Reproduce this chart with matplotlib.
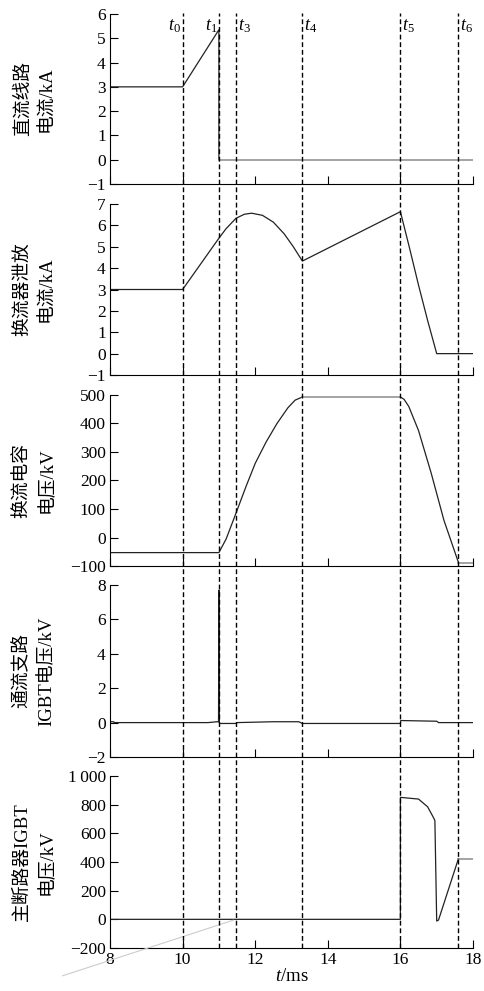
import numpy as np
import matplotlib
matplotlib.use('Agg')
import matplotlib.pyplot as plt
from matplotlib.lines import Line2D
from matplotlib import transforms

plt.rcParams['font.family'] = ['Liberation Serif', 'Noto Sans CJK SC']
plt.rcParams['mathtext.fontset'] = 'custom'
plt.rcParams['mathtext.it'] = 'Liberation Serif:italic'
plt.rcParams['mathtext.rm'] = 'Liberation Serif'
plt.rcParams['axes.unicode_minus'] = True

# event times (ms)
t_marks = [10.0, 11.0, 11.47, 13.3, 16.0, 17.6]
t_names = ['$t_0$', '$t_1$', '$t_3$', '$t_4$', '$t_5$', '$t_6$']

# DC line current (kA)
dc_t = [8.0, 10.0, 11.0, 11.0]
dc_v = [3.0, 3.0, 5.35, 0.0]
dc_zero_t = [11.0, 18.0]
dc_zero_v = [0.0, 0.0]

# converter discharge current (kA)
cv_t = [8.0, 10.0, 11.0, 11.2, 11.47, 11.7, 11.9, 12.2, 12.5, 12.8, 13.05, 13.3,
        16.0, 16.25, 16.5, 16.75, 17.0, 18.0]
cv_v = [3.0, 3.0, 5.4, 5.85, 6.33, 6.52, 6.57, 6.47, 6.15, 5.6, 5.0, 4.33,
        6.64, 4.95, 3.2, 1.55, 0.0, 0.0]

# commutation capacitor voltage (kV)
cc_t = [8.0, 11.0, 11.2, 11.47, 11.75, 12.0, 12.3, 12.6, 12.9, 13.1, 13.3]
cc_v = [-53, -53, -5, 85, 180, 260, 335, 400, 455, 482, 493]
cc_flat_t = [13.3, 16.0]
cc_flat_v = [493, 493]
cc_fall_t = [16.0, 16.1, 16.23, 16.5, 16.85, 17.2, 17.6]
cc_fall_v = [493, 485, 460, 375, 225, 60, -88]
cc_end_t = [17.6, 18.0]
cc_end_v = [-88, -88]

# through-current branch IGBT voltage (kV)
ig_t = [8.0, 8.1, 8.12, 10.7, 10.95, 10.99, 11.0, 11.01, 11.03, 11.47, 11.5, 12.5,
        13.2, 13.3, 16.0, 16.01, 16.5, 17.0, 17.05, 18.0]
ig_v = [0.05, 0.05, 0.0, 0.0, 0.05, 0.05, 7.7, 0.0, -0.05, -0.05, 0.0, 0.05,
        0.05, -0.05, -0.05, 0.12, 0.1, 0.08, 0.0, 0.0]

# main breaker IGBT voltage (kV)
mb_t = [8.0, 16.0, 16.0, 16.5, 16.75, 16.9, 16.95, 17.0, 17.05, 17.6]
mb_v = [0, 0, 851, 839, 785, 715, 690, -12, -5, 424]
mb_end_t = [17.6, 18.0]
mb_end_v = [424, 424]

ylabels = ['直流线路\n电流/kA', '换流器泄放\n电流/kA', '换流电容\n电压/kV',
           '通流支路\nIGBT电压/kV', '主断路器IGBT\n电压/kV']
ylims = [(-1, 6), (-1, 7), (-100, 500), (-2, 8), (-200, 1000)]
yticks = [np.arange(-1, 7, 1), np.arange(-1, 8, 1), np.arange(-100, 501, 100),
          np.arange(-2, 9, 2), np.arange(-200, 1001, 200)]

fig = plt.figure(figsize=(4.85, 9.91), dpi=100)
tops_px = [14, 204, 395, 585, 776]
bots_px = [184, 375, 566, 757, 948]
H = 991.0
axes = []
for i in range(5):
    b = 1 - bots_px[i] / H
    h = (bots_px[i] - tops_px[i]) / H
    ax = fig.add_axes([110 / 485, b, 363 / 485, h])
    axes.append(ax)

dark = '#222222'
grey = '#8a8a8a'
lw = 0.9

axes[0].plot(dc_t, dc_v, color=dark, lw=lw)
axes[0].plot(dc_zero_t, dc_zero_v, color=grey, lw=1.1)
axes[1].plot(cv_t, cv_v, color=dark, lw=lw)
axes[2].plot(cc_t, cc_v, color=dark, lw=lw)
axes[2].plot(cc_flat_t, cc_flat_v, color=grey, lw=1.1)
axes[2].plot(cc_fall_t, cc_fall_v, color=dark, lw=lw)
axes[2].plot(cc_end_t, cc_end_v, color=grey, lw=1.1)
axes[3].plot(ig_t, ig_v, color=dark, lw=lw)
axes[4].plot(mb_t, mb_v, color=dark, lw=lw)
axes[4].plot(mb_end_t, mb_end_v, color=grey, lw=1.1)

for i, ax in enumerate(axes):
    ax.set_xlim(8, 18)
    ax.set_ylim(*ylims[i])
    ax.set_yticks(yticks[i])
    ax.set_xticks(np.arange(8, 19, 2))
    for s in ['top', 'right']:
        ax.spines[s].set_visible(False)
    for s in ['left', 'bottom']:
        ax.spines[s].set_linewidth(0.8)
    ax.tick_params(direction='in', length=6, width=0.8, labelsize=12.5, pad=3)
    ax.set_ylabel(ylabels[i], fontsize=13.5, linespacing=1.5)
    ax.yaxis.set_label_coords(-0.15, 0.5)
    if i < 4:
        ax.tick_params(axis='x', labelbottom=False)

axes[4].set_yticklabels(['−200', '0', '200', '400', '600', '800', '1\u2009000'])
axes[4].set_xlabel('$t$/ms', fontsize=13.5, labelpad=0)

# dashed event lines across all panels
trans = transforms.blended_transform_factory(axes[4].transData, fig.transFigure)
for x in t_marks:
    fig.add_artist(Line2D([x, x], [1 - bots_px[4] / H, 1 - 13 / H], transform=trans,
                          color='black', lw=1.0, linestyle=(0, (3.5, 2))))

for x, name in zip(t_marks, t_names):
    if x <= 11.0:
        axes[0].text(x - 0.05, 5.5, name, ha='right', va='center', fontsize=13)
    else:
        axes[0].text(x + 0.05, 5.5, name, ha='left', va='center', fontsize=13)

# faint scan leader line
axes[4].annotate('', xy=(11.47, 0), xytext=(6.62, -400),
                 arrowprops=dict(arrowstyle='-', color='#cccccc', lw=0.8),
                 annotation_clip=False)

fig.savefig('out.png', dpi=100)
